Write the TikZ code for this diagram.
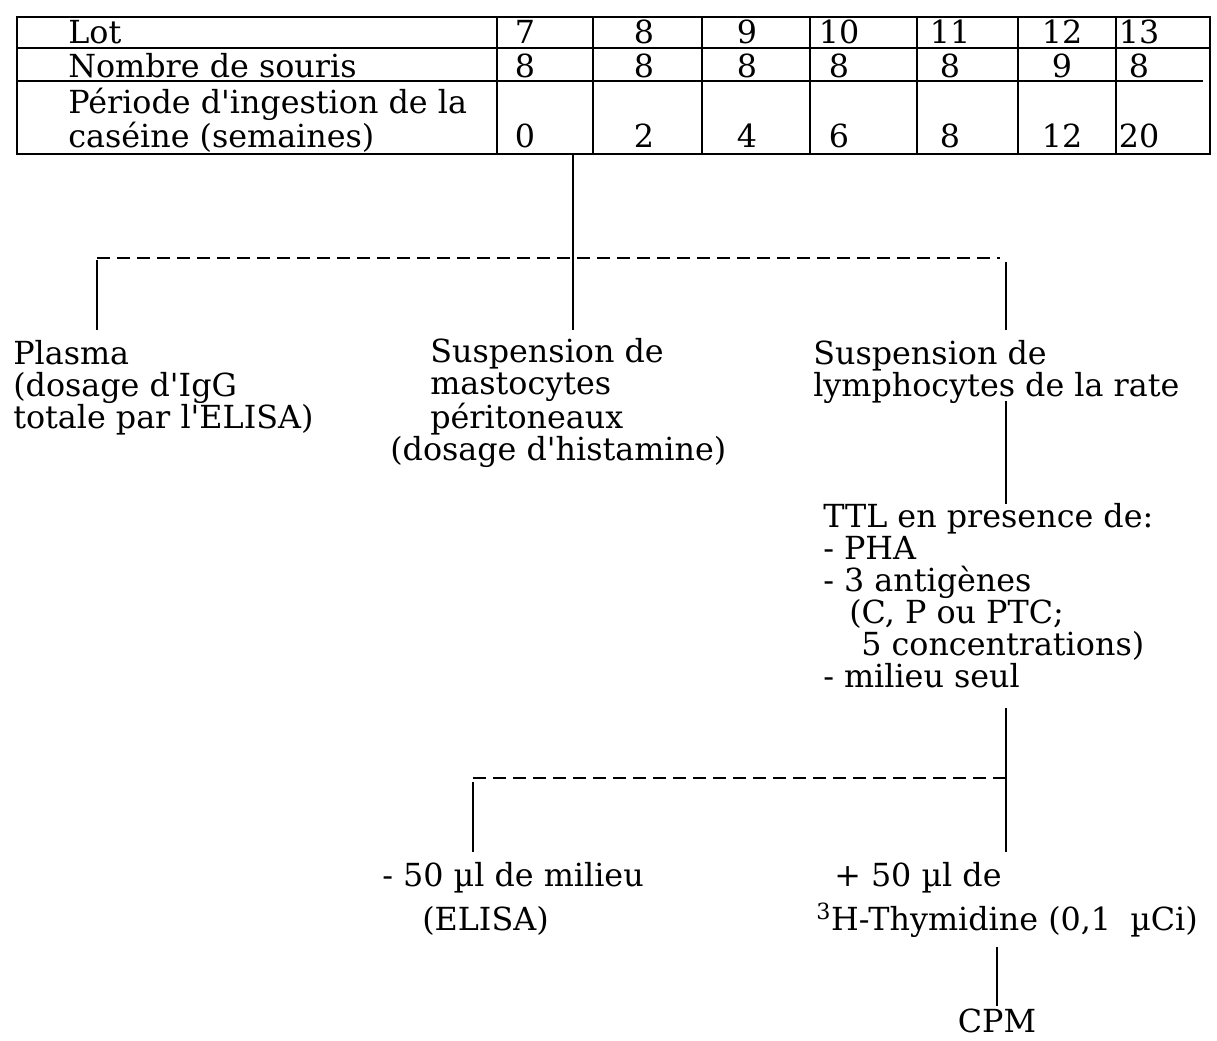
\documentclass[tikz,border=0pt]{standalone}
\usepackage{fontspec}
\setmainfont{DejaVu Serif}

\tikzset{
  tabline/.style={line width=1.3pt},
  num/.style={anchor=base, inner sep=0pt},
  lbl/.style={anchor=base west, inner sep=0pt, align=left},
  wide/.style={font=\fontsize{22.6}{31}\selectfont},
  link/.style={line width=1.1pt},
  branch/.style={line width=1.1pt, dash pattern=on 0.32cm off 0.18cm},
}
\newcommand{\apos}{\textquotesingle}

\begin{document}
\begin{tikzpicture}[x=0.025cm, y=-0.025cm, font=\fontsize{22.6}{22.7}\selectfont]

    \useasboundingbox (0,0) rectangle (1217,1040);

    % --- Table ---
    \draw[tabline] (17,17) rectangle (1210,154);
    \draw[tabline] (17,48) -- (1210,48);
    \draw[tabline] (17,81) -- (1203,81);
    \foreach \x in {497,593,702,810,917,1018,1116}
        \draw[tabline] (\x,17) -- (\x,154);

    % multi-line labels sit on the baseline of their last line
    \node[lbl] (lot) at (68,43) {Lot};
    \node[lbl] (souris) at (68,77) {Nombre de souris};
    \node[lbl] (periode) at (68,147) {Période d\apos ingestion de la\\caséine (semaines)};

    % columns: x / lot / mice / weeks
    \foreach \x/\a/\b/\c [count=\i] in {525/7/8/0, 644/8/8/2, 747/9/8/4, 839/10/8/6,
                                        950/11/8/8, 1062/12/9/12, 1139/13/8/20} {
        \node[num] (lot\i) at (\x,43) {\a};
        \node[num] (nb\i) at (\x,77) {\b};
        \node[num] (sem\i) at (\x,147) {\c};
    }

    % --- Coordinates of the tree ---
    \coordinate (tabfoot) at (573,154);
    \coordinate (mastotop) at (573,330);
    \coordinate (splitL) at (97,258);
    \coordinate (splitR) at (1000,258);
    \coordinate (plasmaup) at (97,260);
    \coordinate (plasmatop) at (97,330);
    \coordinate (lymphup) at (1006,262);
    \coordinate (lymphtop) at (1006,330);
    \coordinate (lymphfoot) at (1006,401);
    \coordinate (ttltop) at (1006,504);
    \coordinate (ttlfoot) at (1006,708);
    \coordinate (splitB) at (1006,778);
    \coordinate (splitA) at (473,778);
    \coordinate (milieuup) at (473,782);
    \coordinate (milieutop) at (473,852);
    \coordinate (thymtop) at (1006,852);
    \coordinate (thymfoot) at (997,947);
    \coordinate (cpmtop) at (997,1006);

    % --- Texts ---
    \node[lbl] (plasma) at (13,428) {Plasma\\(dosage d\apos IgG\\totale par l\apos ELISA)};
    \node[lbl] (masto) at (390,460) {\hspace{1cm}Suspension de\\\hspace{1cm}mastocytes\\\hspace{1cm}péritoneaux\\(dosage d\apos histamine)};
    \node[lbl] (lymph) at (813,396) {Suspension de\\lymphocytes de la rate};
    \node[lbl] (ttl) at (823,687) {TTL en presence de:\\- PHA\\- 3 antigènes\\\hspace{0.65cm}(C, P ou PTC;\\\hspace{0.95cm}5 concentrations)\\- milieu seul};
    \node[lbl, wide] (milieu) at (382,930) {- 50 µl de milieu\\\hspace{1.0cm}(ELISA)};
    \node[lbl, wide] (thym) at (816,930) {\hspace{0.45cm}+ 50 µl de\\\textsuperscript{3}H-Thymidine (0,1\hspace{0.6em}µCi)};
    \node[num] (cpm) at (997,1032) {CPM};

    % --- Connectors ---
    \draw[link] (tabfoot) -- (mastotop);
    \draw[branch] (splitL) -- (splitR);
    \draw[link] (plasmaup) -- (plasmatop);
    \draw[link] (lymphup) -- (lymphtop);
    \draw[link] (lymphfoot) -- (ttltop);
    \draw[link] (ttlfoot) -- (thymtop);
    \draw[branch] (splitA) -- (splitB);
    \draw[link] (milieuup) -- (milieutop);
    \draw[link] (thymfoot) -- (cpmtop);

\end{tikzpicture}
\end{document}
